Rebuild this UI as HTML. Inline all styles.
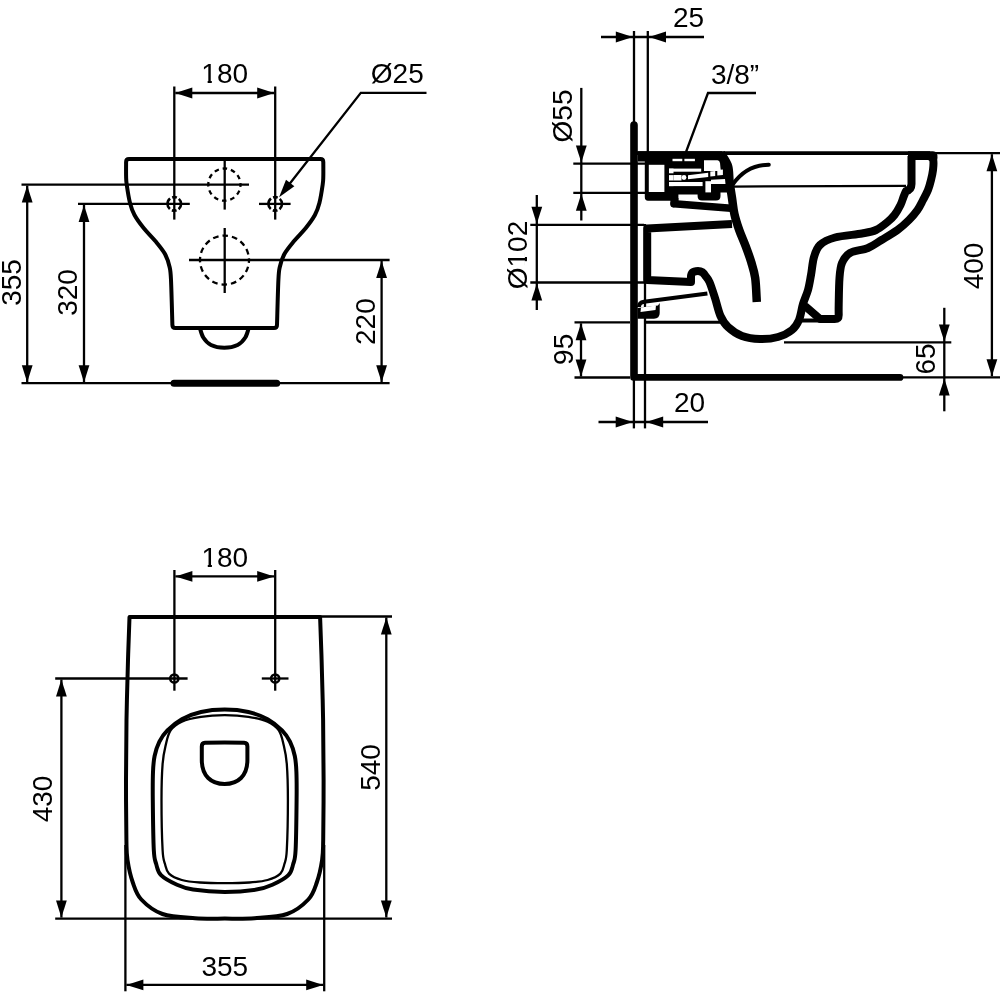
<!DOCTYPE html>
<html><head><meta charset="utf-8"><style>
html,body{margin:0;padding:0;background:#fff;}
svg{display:block;will-change:transform;}
text{font-family:"Liberation Sans",sans-serif;fill:#000;stroke:none;}
</style></head><body>
<svg width="1000" height="1000" viewBox="0 0 1000 1000">
<rect width="1000" height="1000" fill="#fff"/>
<g stroke="#000" fill="none">
<path d="M129,159.1 L320.4,159.1 Q323.3,159.1 323.3,162 C323.3,164.33 323.4,172.25 323.3,176 C323.2,179.75 323.35,180 322.7,184.5 C322.05,189 320.7,197.92 319.4,203 C318.1,208.08 317.17,210.83 314.9,215 C312.63,219.17 309.27,223.67 305.8,228 C302.33,232.33 297.67,236.67 294.1,241 C290.53,245.33 286.78,249.67 284.4,254 C282.02,258.33 280.8,262.67 279.8,267 C278.8,271.33 278.87,270.33 278.4,280 C277.93,289.67 277.23,317.5 277,325 Q277,328 274,328 L175.4,328 Q172.4,328 172.4,325 C172.17,317.5 171.47,289.67 171,280 C170.53,270.33 170.6,271.33 169.6,267 C168.6,262.67 167.38,258.33 165,254 C162.62,249.67 158.87,245.33 155.3,241 C151.73,236.67 147.07,232.33 143.6,228 C140.13,223.67 136.77,219.17 134.5,215 C132.23,210.83 131.3,208.08 130,203 C128.7,197.92 127.35,189 126.7,184.5 C126.05,180 126.2,179.75 126.1,176 C126,172.25 126.1,164.33 126.1,162 Q126.1,159.1 129,159.1 Z" stroke-width="4" fill="none" stroke-linejoin="round"/>
<path d="M199.6,327 C200.22,328.75 201.4,334.5 203.3,337.5 C205.2,340.5 207.5,343.28 211,345 C214.5,346.72 219.87,347.8 224.3,347.8 C228.73,347.8 234.1,346.72 237.6,345 C241.1,343.28 243.4,340.5 245.3,337.5 C247.2,334.5 248.38,328.75 249,327" stroke-width="4" fill="none" />
<line x1="174" y1="383.2" x2="276.7" y2="383.2" stroke-width="7" stroke-linecap="round"/>
<line x1="21.5" y1="383.2" x2="389.6" y2="383.2" stroke-width="2.3" stroke-linecap="butt"/>
<line x1="174.3" y1="86.5" x2="174.3" y2="219.6" stroke-width="2.3" stroke-linecap="butt"/>
<line x1="275.2" y1="86.5" x2="275.2" y2="219.6" stroke-width="2.3" stroke-linecap="butt"/>
<line x1="175.3" y1="93" x2="274.2" y2="93" stroke-width="2.3" stroke-linecap="butt"/>
<path d="M175.3,93 L192.3,87.6 L192.3,98.4 Z" fill="#000" stroke="none"/>
<path d="M274.2,93 L257.2,98.4 L257.2,87.6 Z" fill="#000" stroke="none"/>
<line x1="21.5" y1="184.6" x2="249" y2="184.6" stroke-width="2.3" stroke-linecap="butt"/>
<line x1="78" y1="203.9" x2="189.8" y2="203.9" stroke-width="2.3" stroke-linecap="butt"/>
<line x1="259" y1="203.9" x2="290.6" y2="203.9" stroke-width="2.3" stroke-linecap="butt"/>
<line x1="224.7" y1="161" x2="224.7" y2="209.6" stroke-width="2.3" stroke-linecap="butt"/>
<line x1="224.7" y1="228" x2="224.7" y2="293" stroke-width="2.3" stroke-linecap="butt"/>
<line x1="189" y1="260" x2="389.6" y2="260" stroke-width="2.3" stroke-linecap="butt"/>
<line x1="27.2" y1="185.6" x2="27.2" y2="382.2" stroke-width="2.3" stroke-linecap="butt"/>
<path d="M27.2,185.6 L32.6,202.6 L21.8,202.6 Z" fill="#000" stroke="none"/>
<path d="M27.2,382.2 L21.8,365.2 L32.6,365.2 Z" fill="#000" stroke="none"/>
<line x1="84" y1="204.9" x2="84" y2="382.2" stroke-width="2.3" stroke-linecap="butt"/>
<path d="M84,204.9 L89.4,221.9 L78.6,221.9 Z" fill="#000" stroke="none"/>
<path d="M84,382.2 L78.6,365.2 L89.4,365.2 Z" fill="#000" stroke="none"/>
<line x1="381.6" y1="261" x2="381.6" y2="382.2" stroke-width="2.3" stroke-linecap="butt"/>
<path d="M381.6,261 L387,278 L376.2,278 Z" fill="#000" stroke="none"/>
<path d="M381.6,382.2 L376.2,365.2 L387,365.2 Z" fill="#000" stroke="none"/>
<circle cx="224.4" cy="184.6" r="16.1" stroke-width="2.3" fill="none" stroke-dasharray="4.6 3.83" stroke-dashoffset="2.3"/>
<circle cx="224.5" cy="260.1" r="24.5" stroke-width="2.3" fill="none" stroke-dasharray="5.6 4.02" stroke-dashoffset="2.8"/>
<circle cx="174.3" cy="203.9" r="6.8" stroke-width="2.6" fill="none" stroke-dasharray="11.87 2.37 4.75 2.37 11.87 2.37 4.75 2.37" stroke-dashoffset="5.93"/>
<circle cx="275.2" cy="203.9" r="6.8" stroke-width="2.6" fill="none" stroke-dasharray="11.87 2.37 4.75 2.37 11.87 2.37 4.75 2.37" stroke-dashoffset="5.93"/>
<path d="M426.5,92.8 L360.8,92.8 L284,191" stroke-width="2.3" fill="none" />
<path d="M279.1,197.2 L286.02,179.76 L294.37,186.29 Z" fill="#000" stroke="none"/>
<g transform="translate(224.7,83)"><text x="0" y="0" text-anchor="middle" font-size="28">180</text><rect x="-22.15" y="-2.5" width="5.1" height="3.2" fill="#fff" stroke="none"/><rect x="-12.9" y="-2.5" width="4.6" height="3.2" fill="#fff" stroke="none"/></g>
<g transform="translate(397.3,83.3)"><text x="0" y="0" text-anchor="middle" font-size="28">Ø25</text></g>
<g transform="translate(20.5,282.5) rotate(-90)"><text x="0" y="0" text-anchor="middle" font-size="28">355</text></g>
<g transform="translate(76.5,292.5) rotate(-90)"><text x="0" y="0" text-anchor="middle" font-size="28">320</text></g>
<g transform="translate(375.2,321.6) rotate(-90)"><text x="0" y="0" text-anchor="middle" font-size="28">220</text></g>
<path d="M129.5,617.1 C129.25,624.25 128.5,642.85 128,660 C127.5,677.15 126.83,700 126.5,720 C126.17,740 126.02,760 126,780 C125.98,800 126.15,826.67 126.4,840 C126.65,853.33 126.43,852.92 127.5,860 C128.57,867.08 130.5,875.92 132.8,882.5 C135.1,889.08 136.35,894.25 141.3,899.5 C146.25,904.75 153.55,910.88 162.5,914 C171.45,917.12 184.62,917.43 195,918.2 C205.38,918.97 214.87,918.6 224.8,918.6 C234.73,918.6 244.22,918.97 254.6,918.2 C264.98,917.43 278.15,917.12 287.1,914 C296.05,910.88 303.35,904.75 308.3,899.5 C313.25,894.25 314.5,889.08 316.8,882.5 C319.1,875.92 321.03,867.08 322.1,860 C323.17,852.92 322.95,853.33 323.2,840 C323.45,826.67 323.62,800 323.6,780 C323.58,760 323.43,740 323.1,720 C322.77,700 322.1,677.15 321.6,660 C321.1,642.85 320.35,624.25 320.1,617.1 Z" stroke-width="4" fill="none" stroke-linejoin="round"/>
<path d="M224.7,709.6 C216.8,709.6 208.15,710.4 201,712 C193.85,713.6 187.4,716.13 181.8,719.2 C176.2,722.27 171.13,726.67 167.4,730.4 C163.67,734.13 161.53,737.33 159.4,741.6 C157.27,745.87 155.67,750.93 154.6,756 C153.53,761.07 153.3,764.67 153,772 C152.7,779.33 152.67,787 152.8,800 C152.93,813 153.23,839.33 153.8,850 C154.37,860.67 155,859.8 156.2,864 C157.4,868.2 157.53,871.73 161,875.2 C164.47,878.67 171.67,882.4 177,884.8 C182.33,887.2 185.05,888.4 193,889.6 C200.95,890.8 214.13,892 224.7,892 C235.27,892 248.45,890.8 256.4,889.6 C264.35,888.4 267.07,887.2 272.4,884.8 C277.73,882.4 284.93,878.67 288.4,875.2 C291.87,871.73 292,868.2 293.2,864 C294.4,859.8 295.03,860.67 295.6,850 C296.17,839.33 296.47,813 296.6,800 C296.73,787 296.7,779.33 296.4,772 C296.1,764.67 295.87,761.07 294.8,756 C293.73,750.93 292.13,745.87 290,741.6 C287.87,737.33 285.73,734.13 282,730.4 C278.27,726.67 273.2,722.27 267.6,719.2 C262,716.13 255.55,713.6 248.4,712 C241.25,710.4 232.6,709.6 224.7,709.6 Z" stroke-width="4" fill="none" />
<path d="M224.7,715.2 C216.8,715.2 208.15,715.73 201,716.8 C193.85,717.87 186.87,719.33 181.8,721.6 C176.73,723.87 173.27,726.53 170.6,730.4 C167.93,734.27 167.13,739.2 165.8,744.8 C164.47,750.4 163.32,754.8 162.6,764 C161.88,773.2 161.5,785.67 161.5,800 C161.5,814.33 162.02,839.33 162.6,850 C163.18,860.67 163.93,860.07 165,864 C166.07,867.93 166.2,870.93 169,873.6 C171.8,876.27 176.63,878.52 181.8,880 C186.97,881.48 192.85,881.97 200,882.5 C207.15,883.03 216.47,883.2 224.7,883.2 C232.93,883.2 242.25,883.03 249.4,882.5 C256.55,881.97 262.43,881.48 267.6,880 C272.77,878.52 277.6,876.27 280.4,873.6 C283.2,870.93 283.33,867.93 284.4,864 C285.47,860.07 286.22,860.67 286.8,850 C287.38,839.33 287.9,814.33 287.9,800 C287.9,785.67 287.52,773.2 286.8,764 C286.08,754.8 284.93,750.4 283.6,744.8 C282.27,739.2 281.47,734.27 278.8,730.4 C276.13,726.53 272.67,723.87 267.6,721.6 C262.53,719.33 255.55,717.87 248.4,716.8 C241.25,715.73 232.6,715.2 224.7,715.2 Z" stroke-width="2.3" fill="none" />
<path d="M205,742.8 Q224.6,742 244.2,742.8 Q247.4,743 247.4,746.5 L247.4,760 C247.4,776 238,784 224.6,784 C211.2,784 201.8,776 201.8,760 L201.8,746.5 Q201.8,743 205,742.8 Z" stroke-width="4" fill="none" />
<line x1="174.4" y1="570" x2="174.4" y2="690.7" stroke-width="2.3" stroke-linecap="butt"/>
<line x1="275.2" y1="570" x2="275.2" y2="690.7" stroke-width="2.3" stroke-linecap="butt"/>
<line x1="175.4" y1="576.4" x2="274.2" y2="576.4" stroke-width="2.3" stroke-linecap="butt"/>
<path d="M175.4,576.4 L192.4,571 L192.4,581.8 Z" fill="#000" stroke="none"/>
<path d="M274.2,576.4 L257.2,581.8 L257.2,571 Z" fill="#000" stroke="none"/>
<circle cx="174.3" cy="678.5" r="4.1" stroke-width="2.5" fill="none"/>
<circle cx="275.2" cy="678.5" r="4.1" stroke-width="2.5" fill="none"/>
<line x1="55.2" y1="678.5" x2="187.6" y2="678.5" stroke-width="2.3" stroke-linecap="butt"/>
<line x1="261.8" y1="678.5" x2="288.5" y2="678.5" stroke-width="2.3" stroke-linecap="butt"/>
<line x1="55.2" y1="918.6" x2="392" y2="918.6" stroke-width="2.3" stroke-linecap="butt"/>
<line x1="319" y1="616.5" x2="392" y2="616.5" stroke-width="2.3" stroke-linecap="butt"/>
<line x1="61.4" y1="679.5" x2="61.4" y2="917.6" stroke-width="2.3" stroke-linecap="butt"/>
<path d="M61.4,679.5 L66.8,696.5 L56,696.5 Z" fill="#000" stroke="none"/>
<path d="M61.4,917.6 L56,900.6 L66.8,900.6 Z" fill="#000" stroke="none"/>
<line x1="386.3" y1="617.5" x2="386.3" y2="917.6" stroke-width="2.3" stroke-linecap="butt"/>
<path d="M386.3,617.5 L391.7,634.5 L380.9,634.5 Z" fill="#000" stroke="none"/>
<path d="M386.3,917.6 L380.9,900.6 L391.7,900.6 Z" fill="#000" stroke="none"/>
<line x1="125.4" y1="845" x2="125.4" y2="991.3" stroke-width="2.3" stroke-linecap="butt"/>
<line x1="324.2" y1="845" x2="324.2" y2="991.3" stroke-width="2.3" stroke-linecap="butt"/>
<line x1="126.4" y1="984.9" x2="323.2" y2="984.9" stroke-width="2.3" stroke-linecap="butt"/>
<path d="M126.4,984.9 L143.4,979.5 L143.4,990.3 Z" fill="#000" stroke="none"/>
<path d="M323.2,984.9 L306.2,990.3 L306.2,979.5 Z" fill="#000" stroke="none"/>
<g transform="translate(224.8,567.2)"><text x="0" y="0" text-anchor="middle" font-size="28">180</text><rect x="-22.15" y="-2.5" width="5.1" height="3.2" fill="#fff" stroke="none"/><rect x="-12.9" y="-2.5" width="4.6" height="3.2" fill="#fff" stroke="none"/></g>
<g transform="translate(52.4,799) rotate(-90)"><text x="0" y="0" text-anchor="middle" font-size="28">430</text></g>
<g transform="translate(380,767.5) rotate(-90)"><text x="0" y="0" text-anchor="middle" font-size="28">540</text></g>
<g transform="translate(224.8,975.9)"><text x="0" y="0" text-anchor="middle" font-size="28">355</text></g>
<path d="M630.2,125 A3.8,3.8 0 0 1 637.8,125 L637.8,374 L900,374 A3.4,3.4 0 0 1 900,380.8 L633.5,380.8 Q630.2,380.8 630.2,377.5 Z" fill="#000" stroke="none"/>
<line x1="634" y1="31" x2="634" y2="123" stroke-width="2.3" stroke-linecap="butt"/>
<line x1="647.8" y1="31" x2="647.8" y2="152" stroke-width="2.3" stroke-linecap="butt"/>
<line x1="601" y1="37" x2="704" y2="37" stroke-width="2.3" stroke-linecap="butt"/>
<path d="M632.8,37 L615.8,42.4 L615.8,31.6 Z" fill="#000" stroke="none"/>
<path d="M649,37 L666,31.6 L666,42.4 Z" fill="#000" stroke="none"/>
<line x1="633.9" y1="380" x2="633.9" y2="428.4" stroke-width="2.3" stroke-linecap="butt"/>
<line x1="645" y1="224" x2="645" y2="428.4" stroke-width="2.3" stroke-linecap="butt"/>
<line x1="598.5" y1="422" x2="708" y2="422" stroke-width="2.3" stroke-linecap="butt"/>
<path d="M632.7,422 L615.7,427.4 L615.7,416.6 Z" fill="#000" stroke="none"/>
<path d="M646.2,422 L663.2,416.6 L663.2,427.4 Z" fill="#000" stroke="none"/>
<line x1="581.3" y1="87.9" x2="581.3" y2="220.5" stroke-width="2.3" stroke-linecap="butt"/>
<path d="M581.3,162.6 L575.9,145.6 L586.7,145.6 Z" fill="#000" stroke="none"/>
<path d="M581.3,193.8 L586.7,210.8 L575.9,210.8 Z" fill="#000" stroke="none"/>
<line x1="573.3" y1="163.6" x2="645" y2="163.6" stroke-width="2.3" stroke-linecap="butt"/>
<line x1="573.3" y1="192.8" x2="645" y2="192.8" stroke-width="2.3" stroke-linecap="butt"/>
<line x1="536.8" y1="195" x2="536.8" y2="310" stroke-width="2.3" stroke-linecap="butt"/>
<path d="M536.8,223.8 L531.4,206.8 L542.2,206.8 Z" fill="#000" stroke="none"/>
<path d="M536.8,283.5 L542.2,300.5 L531.4,300.5 Z" fill="#000" stroke="none"/>
<line x1="530.3" y1="224.8" x2="644" y2="224.8" stroke-width="2.3" stroke-linecap="butt"/>
<line x1="530.3" y1="282.5" x2="644" y2="282.5" stroke-width="2.3" stroke-linecap="butt"/>
<line x1="581" y1="323.3" x2="581" y2="376.5" stroke-width="2.3" stroke-linecap="butt"/>
<path d="M581,323.3 L586.4,340.3 L575.6,340.3 Z" fill="#000" stroke="none"/>
<path d="M581,376.5 L575.6,359.5 L586.4,359.5 Z" fill="#000" stroke="none"/>
<line x1="574.5" y1="322.3" x2="630" y2="322.3" stroke-width="2.3" stroke-linecap="butt"/>
<line x1="574.5" y1="377.5" x2="630" y2="377.5" stroke-width="2.3" stroke-linecap="butt"/>
<line x1="991.9" y1="154.2" x2="991.9" y2="376.3" stroke-width="2.3" stroke-linecap="butt"/>
<path d="M991.9,154.2 L997.3,171.2 L986.5,171.2 Z" fill="#000" stroke="none"/>
<path d="M991.9,376.3 L986.5,359.3 L997.3,359.3 Z" fill="#000" stroke="none"/>
<line x1="934" y1="153.2" x2="1000" y2="153.2" stroke-width="2.3" stroke-linecap="butt"/>
<line x1="897" y1="377.3" x2="1000" y2="377.3" stroke-width="2.3" stroke-linecap="butt"/>
<line x1="944.3" y1="307.8" x2="944.3" y2="411.3" stroke-width="2.3" stroke-linecap="butt"/>
<path d="M944.3,341.4 L938.9,324.4 L949.7,324.4 Z" fill="#000" stroke="none"/>
<path d="M944.3,378.5 L949.7,395.5 L938.9,395.5 Z" fill="#000" stroke="none"/>
<line x1="784" y1="342.4" x2="951.3" y2="342.4" stroke-width="2.3" stroke-linecap="butt"/>
<path d="M756,93 L708,93 L686,152" stroke-width="2.3" fill="none" />
<g transform="translate(688.5,26.6)"><text x="0" y="0" text-anchor="middle" font-size="28">25</text></g>
<g transform="translate(735,84)"><text x="0" y="0" text-anchor="middle" font-size="28">3/8”</text></g>
<g transform="translate(572,116) rotate(-90)"><text x="0" y="0" text-anchor="middle" font-size="28">Ø55</text></g>
<g transform="translate(527,255) rotate(-90)"><text x="0" y="0" text-anchor="middle" font-size="28">Ø102</text><rect x="-11.26" y="-2.5" width="5.1" height="3.2" fill="#fff" stroke="none"/><rect x="-2.01" y="-2.5" width="4.6" height="3.2" fill="#fff" stroke="none"/></g>
<g transform="translate(573,349.3) rotate(-90)"><text x="0" y="0" text-anchor="middle" font-size="28">95</text></g>
<g transform="translate(983,266) rotate(-90)"><text x="0" y="0" text-anchor="middle" font-size="28">400</text></g>
<g transform="translate(935,359) rotate(-90)"><text x="0" y="0" text-anchor="middle" font-size="28">65</text></g>
<g transform="translate(689.5,412)"><text x="0" y="0" text-anchor="middle" font-size="28">20</text></g>
<line x1="732" y1="186.6" x2="906" y2="185.8" stroke-width="2.3" stroke-linecap="butt"/>
<line x1="645" y1="322.3" x2="722" y2="322.3" stroke-width="3" stroke-linecap="butt"/>
<line x1="637" y1="153.2" x2="930" y2="153.2" stroke-width="3.8" stroke-linecap="butt"/>
<path d="M929,155.5 C929.7,156.25 932.53,157.58 933.2,160 C933.87,162.42 933.37,166.67 933,170 C932.63,173.33 931.83,176.67 931,180 C930.17,183.33 929.33,186.67 928,190 C926.67,193.33 924.75,196.67 923,200 C921.25,203.33 919.83,206.67 917.5,210 C915.17,213.33 912.33,216.67 909,220 C905.67,223.33 902.08,226.67 897.5,230 C892.92,233.33 886.42,237 881.5,240 C876.58,243 873.25,245.83 868,248 C862.75,250.17 854.33,250.5 850,253 C845.67,255.5 843.75,258.83 842,263 C840.25,267.17 840.05,271 839.5,278 C838.95,285 838.83,298.83 838.7,305 C838.57,311.17 838.7,313.33 838.7,315 Q838.7,319 834.7,319 L820,319 L805,306" stroke-width="8" fill="none" stroke-linejoin="round"/>
<path d="M908,151.3 L933,151.3 Q938,151.3 937.5,158 L937,160 L908,160 Z" fill="#000" stroke="none"/>
<line x1="797" y1="320.5" x2="822" y2="320.5" stroke-width="4" stroke-linecap="butt"/>
<path d="M911.5,156 L911.5,184 Q911.5,190 906,191 C905.58,192 904.42,194.67 903.5,197 C902.58,199.33 902,202 900.5,205 C899,208 896.67,212.17 894.5,215 C892.33,217.83 890.58,219.5 887.5,222 C884.42,224.5 880.25,228.08 876,230 C871.75,231.92 868.83,232.25 862,233.5 C855.17,234.75 842,235.58 835,237.5 C828,239.42 823.5,241.75 820,245 C816.5,248.25 815.5,252 814,257 C812.5,262 812,269.5 811,275 C810,280.5 809.33,285.17 808,290 C806.67,294.83 804.5,299 803,304 C801.5,309 800.83,315.67 799,320 C797.17,324.33 795.5,327.17 792,330 C788.5,332.83 783.33,335.5 778,337 C772.67,338.5 766,339.17 760,339 C754,338.83 747.33,338 742,336 C736.67,334 731.58,330.33 728,327 C724.42,323.67 722.67,320.83 720.5,316 C718.33,311.17 716.83,303.67 715,298 C713.17,292.33 711.08,285.67 709.5,282 C707.92,278.33 706.17,277 705.5,276 Q703,271 698,271 Q691,271 691,277 L691,282 L647.2,280 L647.2,228.5 L732,224" stroke-width="8" fill="none" stroke-linejoin="round"/>
<path d="M720.8,153.2 C722,155.33 726.53,161.2 728,166 C729.47,170.8 728.93,176.67 729.6,182 C730.27,187.33 731.2,192.67 732,198 C732.8,203.33 733.2,208.67 734.4,214 C735.6,219.33 737.33,224.67 739.2,230 C741.07,235.33 743.6,240.67 745.6,246 C747.6,251.33 749.6,256.67 751.2,262 C752.8,267.33 754.27,271.33 755.2,278 C756.13,284.67 756.53,298 756.8,302" stroke-width="8.5" fill="none" />
<path d="M707.4,293.5 L644,301.8 Q639,302.6 639,307" stroke-width="4" fill="none" stroke-linecap="butt"/>
<path d="M637.5,308 L658,305.5 L659.7,303 L659.7,313 Q659.7,318.7 654,318.7 L637.5,318.7 Z" fill="#000" stroke="none"/>
<path d="M641,307.5 L656,305.5 L655.5,310 L640.5,312 Z" fill="#fff" stroke="none"/>
<path d="M732.8,184.4 C740,174 750,165 768.8,164.7" stroke-width="4" fill="none" stroke-linecap="round"/>
<path d="M674,203.8 L731,208.3" stroke-width="7.5" fill="none" stroke-linecap="round"/>
<g stroke="none">
<path d="M637.8,151.2 L722,151.2 L728,160 L733,174.7 L732.3,187.3 L729,192.5 L720.5,192.5 L720.5,196 Q720.5,200.5 716,200.5 L702,200.5 Q697.6,200.5 697.6,196 L697.6,194.4 L678.4,194.4 L678.4,200.8 L648,200.8 Q644.8,200.8 644.8,197 L644.8,161.6 L637.8,161.6 Z" fill="#000"/>
<path d="M670.4,198 L678.4,198 L678.4,204 L674,207.5 Q670.4,207 670.4,203 Z" fill="#000"/>
<rect x="648.8" y="164.8" width="15.6" height="27.2" fill="#fff"/>
<rect x="669" y="168.6" width="32.2" height="3.1" fill="#fff"/>
<rect x="669" y="182" width="33.6" height="4.1" fill="#fff"/>
<rect x="669" y="168.6" width="4.5" height="17.5" fill="#fff"/>
<rect x="669" y="173.3" width="5" height="1.8" fill="#000"/>
<rect x="669" y="180.5" width="5" height="1.5" fill="#000"/>
<rect x="673.5" y="175" width="8" height="5.5" fill="#fff"/>
<circle cx="684" cy="177.5" r="2.4" fill="#fff"/>
<path d="M688,175.2 L708.2,172.8 L708.2,177 L688,179.2 Z" fill="#fff"/>
<path d="M710.3,171.5 L715.2,171 L715.2,176 L710.3,176.6 Z" fill="#fff"/>
<path d="M717.3,170 L722.9,169.5 L722.9,175 L717.3,175.6 Z" fill="#fff"/>
<path d="M704,160.2 L717.5,160.2 Q719.5,160.2 720,163 L720.8,171 L704,171 Z" fill="#fff"/>
<rect x="705.4" y="181.2" width="5.6" height="11.2" fill="#fff"/>
<path d="M711,179.8 L725,179 L725.5,184 L711,184 Z" fill="#fff"/>
<rect x="672.5" y="158.8" width="9.8" height="2.4" fill="#fff"/>
<rect x="684.4" y="158.8" width="10.5" height="2.4" fill="#fff"/>
</g>
</g>
</svg>
</body></html>
